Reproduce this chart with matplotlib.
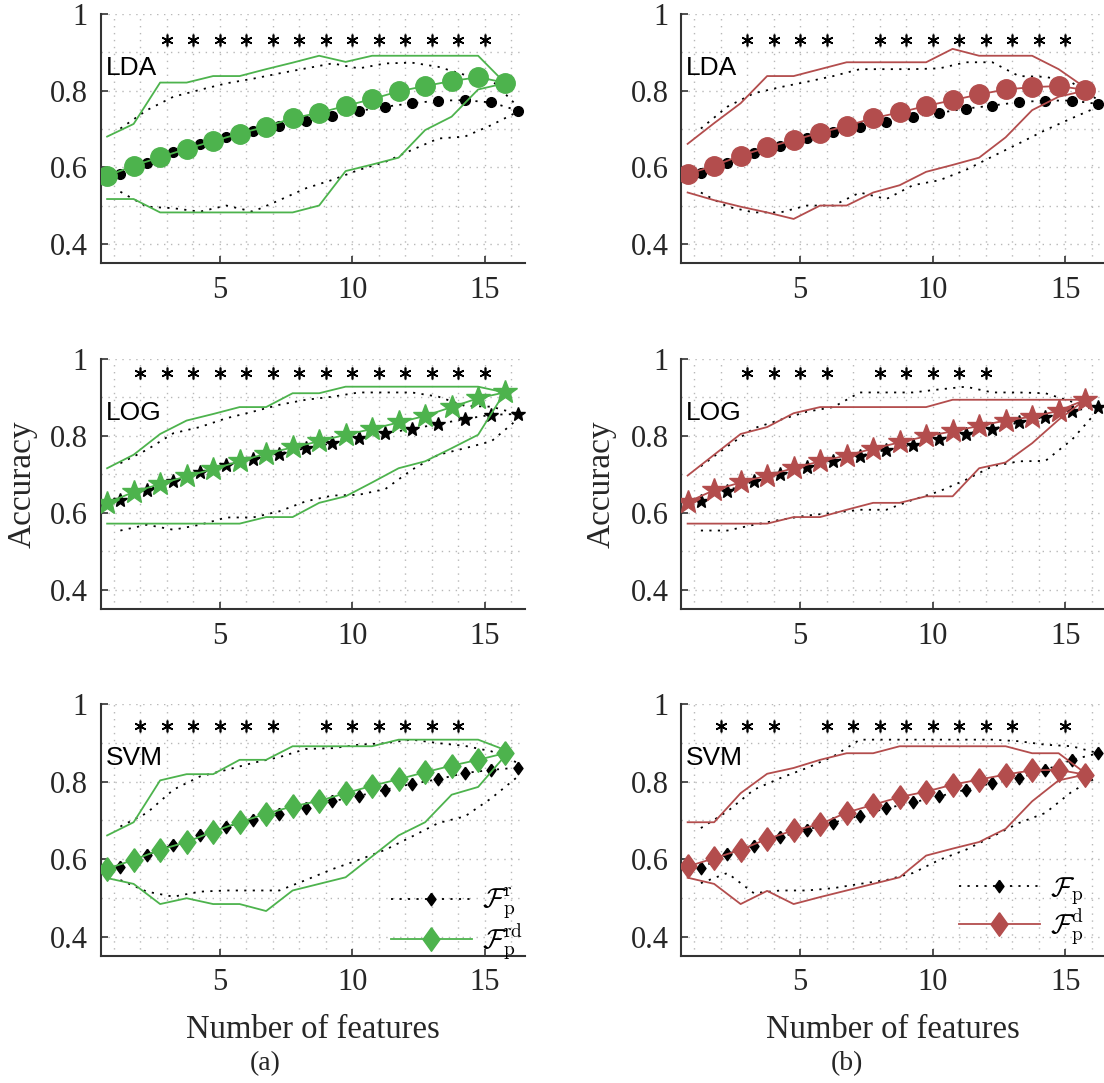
import numpy as np
import matplotlib.pyplot as plt
from matplotlib.lines import Line2D
from matplotlib.ticker import MultipleLocator, FuncFormatter

plt.rcParams['font.family'] = 'Liberation Serif'
plt.rcParams['mathtext.fontset'] = 'cm'

GREEN = '#4db34d'
RED = '#b34d4d'
AXC = '#333333'

n_features = np.arange(1, 17)

# ---------------- column (a): F_p^r (black) vs F_p^rd (green) ----------------
lda_a_r_mean = [0.582, 0.610, 0.640, 0.660, 0.680, 0.695, 0.708, 0.721,
                0.734, 0.747, 0.758, 0.767, 0.774, 0.775, 0.769, 0.748]
lda_a_r_up = [0.701, 0.749, 0.784, 0.802, 0.819, 0.831, 0.845, 0.858,
              0.871, 0.858, 0.871, 0.873, 0.862, 0.841, 0.828, 0.758]
lda_a_r_lo = [0.536, 0.497, 0.493, 0.484, 0.500, 0.484, 0.514, 0.545,
              0.567, 0.593, 0.614, 0.645, 0.675, 0.680, 0.710, 0.745]
lda_a_rd_mean = [0.577, 0.604, 0.626, 0.648, 0.668, 0.688, 0.706, 0.728,
                 0.742, 0.760, 0.778, 0.798, 0.812, 0.825, 0.835, 0.821]
lda_a_rd_up = [0.680, 0.713, 0.821, 0.821, 0.838, 0.838, 0.856, 0.873,
               0.891, 0.875, 0.891, 0.891, 0.891, 0.891, 0.891, 0.821]
lda_a_rd_lo = [0.517, 0.517, 0.482, 0.482, 0.482, 0.482, 0.482, 0.482,
               0.500, 0.590, 0.607, 0.625, 0.697, 0.732, 0.803, 0.819]
lda_a_stars = [3, 4, 5, 6, 7, 8, 9, 10, 11, 12, 13, 14, 15]

log_a_r_mean = [0.634, 0.660, 0.684, 0.705, 0.725, 0.741, 0.754, 0.768,
                0.781, 0.794, 0.807, 0.818, 0.831, 0.844, 0.855, 0.857]
log_a_r_up = [0.729, 0.764, 0.807, 0.823, 0.846, 0.863, 0.881, 0.894,
              0.902, 0.913, 0.913, 0.913, 0.902, 0.878, 0.876, 0.857]
log_a_r_lo = [0.554, 0.569, 0.556, 0.569, 0.588, 0.588, 0.604, 0.630,
              0.645, 0.647, 0.662, 0.712, 0.751, 0.768, 0.786, 0.844]
log_a_rd_mean = [0.626, 0.654, 0.675, 0.695, 0.714, 0.734, 0.754, 0.770,
                 0.786, 0.803, 0.818, 0.835, 0.852, 0.875, 0.898, 0.913]
log_a_rd_up = [0.716, 0.751, 0.805, 0.840, 0.857, 0.875, 0.875, 0.911,
               0.911, 0.928, 0.928, 0.928, 0.928, 0.928, 0.928, 0.913]
log_a_rd_lo = [0.572, 0.572, 0.572, 0.572, 0.572, 0.572, 0.589, 0.589,
               0.626, 0.643, 0.679, 0.716, 0.734, 0.768, 0.803, 0.913]
log_a_stars = [2, 3, 4, 5, 6, 7, 8, 9, 10, 11, 12, 13, 14, 15]

svm_a_r_mean = [0.579, 0.611, 0.637, 0.663, 0.684, 0.700, 0.717, 0.731,
                0.749, 0.763, 0.779, 0.794, 0.806, 0.822, 0.830, 0.836]
svm_a_r_up = [0.684, 0.719, 0.779, 0.813, 0.830, 0.848, 0.863, 0.884,
              0.886, 0.895, 0.899, 0.908, 0.899, 0.892, 0.878, 0.848]
svm_a_r_lo = [0.546, 0.516, 0.503, 0.516, 0.519, 0.519, 0.519, 0.546,
              0.574, 0.598, 0.624, 0.658, 0.693, 0.710, 0.757, 0.813]
svm_a_rd_mean = [0.575, 0.598, 0.624, 0.644, 0.671, 0.695, 0.717, 0.736,
                 0.750, 0.770, 0.789, 0.806, 0.824, 0.841, 0.856, 0.873]
svm_a_rd_up = [0.661, 0.695, 0.803, 0.819, 0.819, 0.856, 0.856, 0.891,
               0.891, 0.891, 0.891, 0.908, 0.908, 0.908, 0.908, 0.882]
svm_a_rd_lo = [0.551, 0.536, 0.484, 0.499, 0.484, 0.484, 0.466, 0.519,
               0.536, 0.553, 0.607, 0.661, 0.695, 0.766, 0.786, 0.865]
svm_a_stars = [2, 3, 4, 5, 6, 7, 9, 10, 11, 12, 13, 14]

# ---------------- column (b): F_p (black) vs F_p^d (red) ----------------
lda_b_mean = [0.584, 0.610, 0.636, 0.656, 0.677, 0.691, 0.706, 0.719,
              0.732, 0.742, 0.753, 0.761, 0.770, 0.774, 0.774, 0.765]
lda_b_up = [0.701, 0.758, 0.793, 0.809, 0.823, 0.838, 0.856, 0.856,
            0.856, 0.858, 0.874, 0.874, 0.838, 0.836, 0.821, 0.775]
lda_b_lo = [0.534, 0.497, 0.482, 0.482, 0.500, 0.500, 0.534, 0.517,
            0.553, 0.566, 0.593, 0.628, 0.662, 0.697, 0.728, 0.758]
lda_b_d_mean = [0.582, 0.604, 0.630, 0.652, 0.671, 0.690, 0.708, 0.728,
                0.743, 0.760, 0.775, 0.790, 0.803, 0.809, 0.812, 0.802]
lda_b_d_up = [0.661, 0.715, 0.767, 0.838, 0.838, 0.856, 0.874, 0.874,
              0.874, 0.874, 0.909, 0.891, 0.891, 0.891, 0.856, 0.808]
lda_b_d_lo = [0.534, 0.514, 0.497, 0.482, 0.465, 0.500, 0.500, 0.534,
              0.553, 0.588, 0.606, 0.625, 0.678, 0.749, 0.784, 0.800]
lda_b_stars = [3, 4, 5, 6, 8, 9, 10, 11, 12, 13, 14, 15]

log_b_mean = [0.632, 0.658, 0.682, 0.702, 0.719, 0.735, 0.748, 0.764,
              0.777, 0.792, 0.806, 0.818, 0.835, 0.850, 0.865, 0.876]
log_b_up = [0.721, 0.773, 0.820, 0.842, 0.863, 0.875, 0.913, 0.913,
            0.913, 0.921, 0.928, 0.913, 0.913, 0.911, 0.889, 0.876]
log_b_lo = [0.554, 0.554, 0.569, 0.582, 0.593, 0.600, 0.608, 0.608,
            0.634, 0.656, 0.686, 0.721, 0.734, 0.735, 0.790, 0.868]
log_b_d_mean = [0.628, 0.659, 0.679, 0.697, 0.716, 0.734, 0.749, 0.767,
                0.783, 0.799, 0.812, 0.826, 0.840, 0.850, 0.865, 0.894]
log_b_d_up = [0.697, 0.751, 0.805, 0.823, 0.859, 0.875, 0.875, 0.875,
              0.875, 0.875, 0.894, 0.894, 0.894, 0.894, 0.894, 0.894]
log_b_d_lo = [0.572, 0.572, 0.572, 0.572, 0.589, 0.589, 0.608, 0.626,
              0.626, 0.643, 0.643, 0.716, 0.731, 0.781, 0.842, 0.894]
log_b_stars = [3, 4, 5, 6, 8, 9, 10, 11, 12]

svm_b_mean = [0.576, 0.613, 0.635, 0.657, 0.676, 0.694, 0.712, 0.731,
              0.746, 0.762, 0.779, 0.796, 0.809, 0.830, 0.856, 0.873]
svm_b_up = [0.680, 0.723, 0.779, 0.809, 0.835, 0.865, 0.908, 0.908,
            0.908, 0.908, 0.908, 0.908, 0.904, 0.895, 0.891, 0.873]
svm_b_lo = [0.538, 0.564, 0.512, 0.519, 0.519, 0.525, 0.536, 0.546,
            0.564, 0.598, 0.624, 0.658, 0.693, 0.719, 0.774, 0.813]
svm_b_d_mean = [0.581, 0.602, 0.624, 0.652, 0.674, 0.690, 0.720, 0.740,
                0.760, 0.774, 0.792, 0.805, 0.818, 0.829, 0.830, 0.818]
svm_b_d_up = [0.695, 0.695, 0.770, 0.820, 0.835, 0.856, 0.873, 0.873,
              0.891, 0.891, 0.891, 0.891, 0.891, 0.873, 0.873, 0.822]
svm_b_d_lo = [0.552, 0.536, 0.484, 0.518, 0.484, 0.502, 0.519, 0.536,
              0.553, 0.609, 0.627, 0.644, 0.678, 0.749, 0.803, 0.818]
svm_b_stars = [2, 3, 4, 6, 7, 8, 9, 10, 11, 12, 13, 15]

star_height = {'LDA': 0.932, 'LOG': 0.963, 'SVM': 0.942}

DIAMOND = [(0, 1), (0.72, 0), (0, -1), (-0.72, 0), (0, 1)]
marker_style = {
    'LDA': dict(marker='o', big=14, small=7),
    'LOG': dict(marker='*', big=18, small=10),
    'SVM': dict(marker=DIAMOND, big=17, small=9),
}


def style_axes(ax):
    ax.set_xlim(0.5, 16.5)
    ax.set_ylim(0.35, 1.0)
    ax.set_xticks([5, 10, 15])
    ax.set_yticks([0.4, 0.6, 0.8, 1.0])
    ax.xaxis.set_minor_locator(MultipleLocator(1))
    ax.yaxis.set_minor_locator(MultipleLocator(0.1))
    ax.yaxis.set_major_formatter(FuncFormatter(lambda v, p: f'{v:g}'))
    ax.grid(True, which='both', color='#b8b8b8', linestyle=(0, (1, 4)), linewidth=1.0)
    ax.set_axisbelow(True)
    ax.tick_params(which='major', direction='in', length=5, width=1.2, color=AXC,
                   labelsize=22, labelcolor='#262626')
    ax.tick_params(axis='x', which='major', pad=9)
    ax.tick_params(axis='y', which='major', pad=9)
    ax.tick_params(which='minor', length=0)
    for s in ['top', 'right']:
        ax.spines[s].set_visible(False)
    for s in ['left', 'bottom']:
        ax.spines[s].set_linewidth(1.5)
        ax.spines[s].set_color(AXC)


def draw_panel(ax, name, color, ref, ref_up, ref_lo, new, new_up, new_lo, stars):
    ms = marker_style[name]
    xb = n_features + 0.25
    xc = n_features - 0.25
    dots = (0, (1.2, 3.5))
    # reference feature set (black, dotted)
    ax.plot(xb, ref_up, color='k', linestyle=dots, linewidth=1.3, zorder=3)
    ax.plot(xb, ref_lo, color='k', linestyle=dots, linewidth=1.3, zorder=3)
    ax.plot(xb, ref, color='k', linestyle=dots, linewidth=1.3, marker=ms['marker'],
            markersize=ms['small'], markerfacecolor='k', markeredgecolor='k', zorder=4,
            clip_on=False)
    # proposed feature set (coloured, solid)
    ax.plot(xc, new_up, color=color, linewidth=1.3, zorder=5)
    ax.plot(xc, new_lo, color=color, linewidth=1.3, zorder=5)
    ax.plot(xc, new, color=color, linewidth=1.3, marker=ms['marker'],
            markersize=ms['big'], markerfacecolor=color, markeredgecolor=color, zorder=6)
    # significance asterisks
    ax.plot(stars, [star_height[name]] * len(stars), linestyle='none', marker=(6, 2, 0),
            markersize=8.5, markeredgewidth=1.2, color='k', zorder=6)
    ax.text(0.7, 0.86, name, fontsize=19, family='Liberation Sans', ha='left', va='center',
            color='k', zorder=7)


fig = plt.figure(figsize=(11.04, 10.83), dpi=100)
W, H = 1104.0, 1083.0
col_x = [(100.5, 424), (681, 424)]
row_y = [(14, 263), (359, 609), (704, 956)]

panels_a = [
    ('LDA', lda_a_r_mean, lda_a_r_up, lda_a_r_lo, lda_a_rd_mean, lda_a_rd_up, lda_a_rd_lo, lda_a_stars),
    ('LOG', log_a_r_mean, log_a_r_up, log_a_r_lo, log_a_rd_mean, log_a_rd_up, log_a_rd_lo, log_a_stars),
    ('SVM', svm_a_r_mean, svm_a_r_up, svm_a_r_lo, svm_a_rd_mean, svm_a_rd_up, svm_a_rd_lo, svm_a_stars),
]
panels_b = [
    ('LDA', lda_b_mean, lda_b_up, lda_b_lo, lda_b_d_mean, lda_b_d_up, lda_b_d_lo, lda_b_stars),
    ('LOG', log_b_mean, log_b_up, log_b_lo, log_b_d_mean, log_b_d_up, log_b_d_lo, log_b_stars),
    ('SVM', svm_b_mean, svm_b_up, svm_b_lo, svm_b_d_mean, svm_b_d_up, svm_b_d_lo, svm_b_stars),
]

axes = {}
for c, (panels, color) in enumerate([(panels_a, GREEN), (panels_b, RED)]):
    x0, w = col_x[c]
    for r, p in enumerate(panels):
        top, bot = row_y[r]
        ax = fig.add_axes([x0 / W, 1 - bot / H, w / W, (bot - top) / H])
        style_axes(ax)
        draw_panel(ax, p[0], color, *p[1:])
        axes[(r, c)] = ax

# y labels on middle row
for xpix in [22, 601]:
    fig.text(xpix / W, 1 - 484 / H, 'Accuracy', fontsize=24, rotation=90,
             ha='center', va='center', color='#262626')

# x labels and panel tags
for c, tag_x in enumerate([265, 847]):
    x0, w = col_x[c]
    fig.text((x0 + w / 2) / W, 1 - 1030 / H, 'Number of features', fontsize=23.5,
             ha='center', va='center', color='#262626')
    fig.text(tag_x / W, 1 - 1064 / H, '(a)' if c == 0 else '(b)', fontsize=20,
             ha='center', va='center', color='#262626')

# legends in the bottom row
legend_labels = [
    (r'$\mathcal{F}_\mathrm{p}^\mathrm{r}$', r'$\mathcal{F}_\mathrm{p}^\mathrm{rd}$'),
    (r'$\mathcal{F}_\mathrm{p}$', r'$\mathcal{F}_\mathrm{p}^\mathrm{d}$'),
]
legend_left = [391, 959]
legend_top = [886, 875]
for c, color in enumerate([GREEN, RED]):
    ax = axes[(2, c)]
    h_ref = Line2D([], [], color='k', linestyle=(0, (1.2, 3.5)), linewidth=1.3,
                   marker=DIAMOND, markersize=9, markerfacecolor='k', markeredgecolor='k')
    h_new = Line2D([], [], color=color, linewidth=1.3, marker=DIAMOND, markersize=17,
                   markerfacecolor=color, markeredgecolor=color)
    ax.legend([h_ref, h_new], list(legend_labels[c]), loc='upper left', frameon=False,
              fontsize=20, handlelength=2.9, handletextpad=0.36, labelspacing=0.0,
              borderpad=0.0, borderaxespad=0.0,
              bbox_to_anchor=(legend_left[c] / W, 1 - legend_top[c] / H),
              bbox_transform=fig.transFigure)

fig.savefig('out.png', dpi=100)
